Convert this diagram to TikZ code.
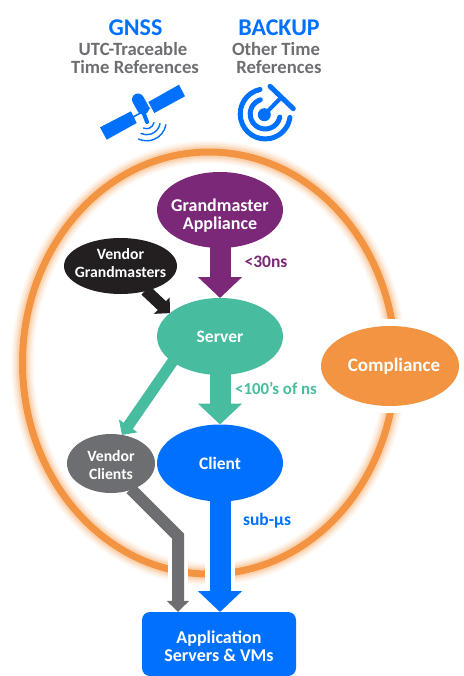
\documentclass[tikz,border=0pt]{standalone}
\usepackage{fontspec}
\setmainfont{Carlito}[BoldFont=Carlito Bold]
\usetikzlibrary{shapes.geometric,arrows.meta}
\newcommand{\shifted}[2]{\raisebox{#1}[0pt][0pt]{\begin{tabular}{@{}c@{}}#2\end{tabular}}}
\definecolor{gmblue}{HTML}{0070FF}
\definecolor{gmgrey}{HTML}{6D6E71}
\definecolor{gmpurple}{HTML}{7B2878}
\definecolor{gmteal}{HTML}{48BC9F}
\definecolor{gmorange}{HTML}{F29441}
\definecolor{gmblack}{HTML}{231F20}
\tikzset{
    blob/.style={ellipse, inner sep=-20pt, outer sep=0pt, align=center, text=white,
        font=\bfseries\fontsize{17.5}{18}\selectfont},
    smallblob/.style={blob, font=\bfseries\fontsize{15.7}{18}\selectfont},
    biglabel/.style={font=\bfseries\fontsize{24}{24}\selectfont, text=gmblue, inner sep=0pt},
    greylabel/.style={font=\bfseries\fontsize{18.7}{20}\selectfont, text=gmgrey, inner sep=0pt},
    timelabel/.style={font=\bfseries\fontsize{17.5}{18}\selectfont, inner sep=0pt},
    fatarrow/.style={line width=21pt, shorten <=-1pt, -{Triangle[length=21pt,width=43pt]}},
    thinarrow/.style={line width=12pt, shorten <=-1pt, -{Triangle[length=11pt,width=22pt]}},
    halo/.style={draw=white, line width=#1},
    icon/.style={draw=gmblue, line cap=round}
}

\begin{document}
\begin{tikzpicture}[x=1pt, y=1pt]
        \useasboundingbox (0, 0) rectangle (463, -676);

        % ring with its glow
        \foreach \w/\o in {23/.05, 20/.07, 17/.09, 14/.12, 11/.18} {
            \draw[gmorange, opacity=\o, line width=\w pt] (209, -363) ellipse [x radius=186.5, y radius=211];
        }
        \node[ellipse, draw=gmorange, line width=7pt, inner sep=0pt,
            minimum width=373pt, minimum height=422pt] (RING) at (209, -363) {};

        % headings
        \node[biglabel] (GNSS) at (135.5, -28) {GNSS};
        \node[greylabel] (UTC) at (133, -49) {UTC-Traceable};
        \node[greylabel] (TR1) at (135, -67) {Time References};
        \node[biglabel] (BACKUP) at (279, -28) {BACKUP};
        \node[greylabel] (OTHER) at (276, -49) {Other Time};
        \node[greylabel] (TR2) at (279, -67) {References};

        % satellite
        \begin{scope}
            \fill[gmblue] (148.3, -102) -- (179, -84.7) -- (185, -96.3) -- (154.3, -113) -- cycle;
            \fill[gmblue] (100, -127.3) -- (131, -111.3) -- (136.7, -123) -- (106.7, -139.7) -- cycle;
            \draw[gmblue, line width=1.5pt] (133, -117) -- (150, -108);
            \draw[icon, line width=12pt] (138, -99.5) -- (143, -108.5);
            \draw[icon, line width=4pt] (144, -114) -- (147, -122);
            \draw[icon, line width=1.4pt] (154, -122.5) arc [start angle=-10, end angle=-115, radius=7.5];
            \draw[icon, line width=1.4pt] (160, -123.6) arc [start angle=-10, end angle=-115, radius=13.5];
            \draw[icon, line width=1.4pt] (165.9, -124.7) arc [start angle=-10, end angle=-115, radius=19.5];
        \end{scope}

        % dish
        \begin{scope}
            \draw[icon, line width=5pt] (260, -89.5) arc [start angle=102, end angle=352, radius=25];
            \draw[icon, line width=5pt] (260.3, -99.8) arc [start angle=109, end angle=348, radius=15];
            \fill[gmblue] (264.3, -114.7) circle (6.5);
            \draw[icon, line width=4pt] (264.3, -114.7) -- (280, -98.7);
            \draw[icon, line width=5pt] (270, -86.3) -- (293.3, -108.7);
        \end{scope}

        % white gaps in the ring
        \coordinate (VCBEND) at (178, -536);
        \coordinate (CLEND) at (220, -612);
        \draw[halo=20pt] (VCBEND) -- ++(0, -76);
        \draw[halo=30pt] (220, -501) -- (CLEND);

        \node[blob, inner sep=-40pt, fill=gmorange, preaction={draw=white, line width=14pt},
            font=\bfseries\fontsize{19}{18}\selectfont,
            minimum width=138pt, minimum height=80pt] (COMP) at (390, -366)
            {\hspace*{8pt}\shifted{-5.4pt}{Compliance}};

        \node[blob, fill=gmpurple, font=\bfseries\fontsize{18}{18}\selectfont,
            minimum width=126pt, minimum height=76pt] (GM) at (220, -210)
            {\shifted{-11pt}{Grandmaster\\Appliance}};
        \node[smallblob, fill=gmblack, minimum width=113pt, minimum height=56pt] (VG) at (120.5, -266)
            {\shifted{-2.4pt}{Vendor\\Grandmasters}};
        \node[blob, fill=gmteal, minimum width=126pt, minimum height=77pt] (SV) at (220, -336.5) {Server};
        \node[smallblob, fill=gmgrey, minimum width=88pt, minimum height=59pt] (VC) at (111, -463.5)
            {\shifted{-7pt}{Vendor\\Clients}};
        \node[blob, fill=gmblue, minimum width=126pt, minimum height=77pt] (CL) at (220, -463) {Client};
        \node[rectangle, rounded corners=8pt, fill=gmblue, text=white, align=center, inner sep=0pt,
            font=\bfseries\fontsize{18}{18}\selectfont,
            minimum width=154pt, minimum height=64pt] (APP) at (219, -644)
            {\shifted{-9.4pt}{Application\\Servers \& VMs}};

        \begin{scope}
            \draw[fatarrow, gmpurple] (GM) -- (SV);
            \draw[fatarrow, gmteal] (SV) -- (CL);
            \draw[fatarrow, gmblue] (CL) -- (CLEND);
            \draw[thinarrow, gmblack] (VG.316) -- (SV.155);
            \draw[thinarrow, gmteal, line width=11pt] (SV.208) -- (VC.69);
            \draw[thinarrow, gmgrey, line join=miter] (VC.-52) -- (VCBEND) -- (VCBEND |- APP.north);
        \end{scope}

        \node[timelabel, text=gmpurple] (L30) at (266, -262) {<30ns};
        \node[timelabel, text=gmteal, font=\bfseries\fontsize{16.8}{18}\selectfont] (L100) at (276, -388) {<100's of ns};
        \node[timelabel, text=gmblue] (LSUB) at (267, -521) {sub-µs};

\end{tikzpicture}
\end{document}
